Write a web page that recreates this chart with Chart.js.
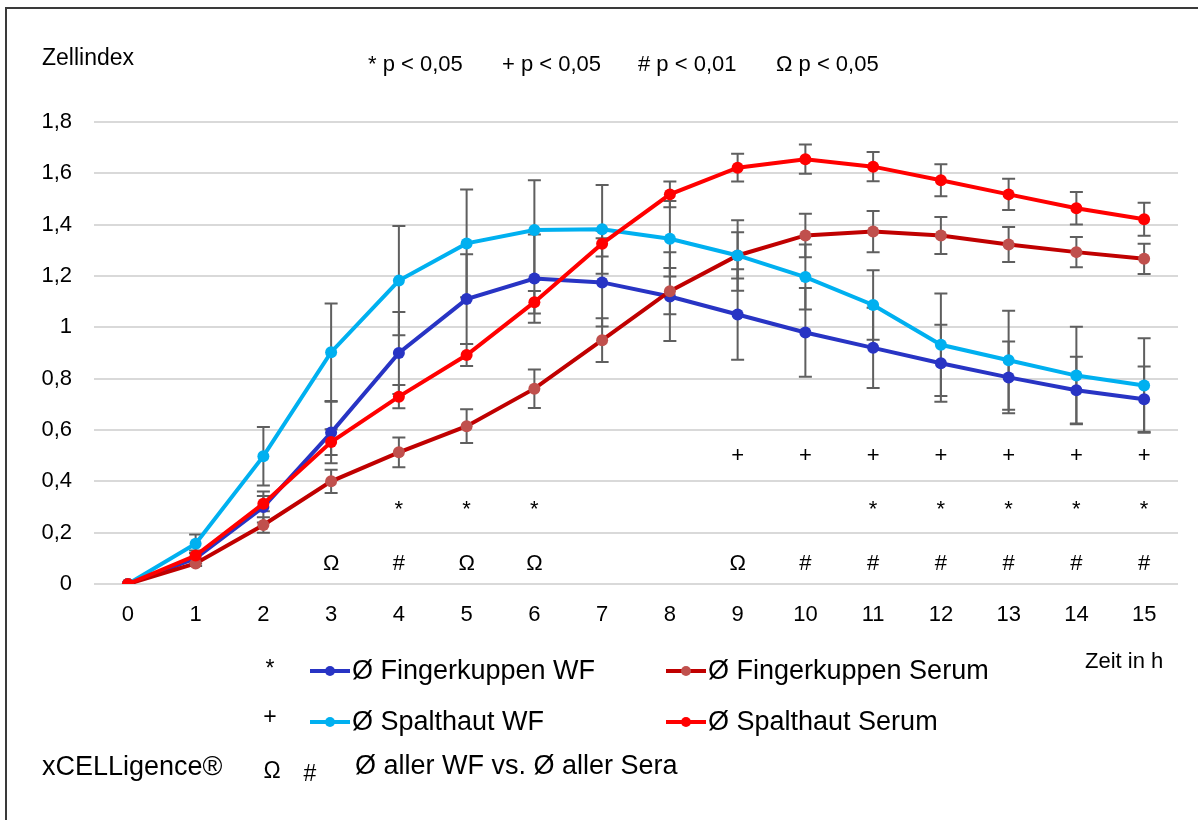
<!DOCTYPE html>
<html>
<head>
<meta charset="utf-8">
<script src="https://cdn.jsdelivr.net/npm/chart.js@4.4.1/dist/chart.umd.min.js"></script>
<style>
html,body{margin:0;padding:0;background:#ffffff;}
canvas{display:block;}
</style>
</head>
<body>
<canvas id="c" width="1198" height="820"></canvas>
<script>
// ---- data ----
const hours = ['0','1','2','3','4','5','6','7','8','9','10','11','12','13','14','15'];

const fingerWF      = [0, 0.10, 0.30, 0.59, 0.90, 1.11, 1.19, 1.175, 1.12, 1.05, 0.98, 0.92, 0.86, 0.805, 0.755, 0.72];
const fingerWFErr   = [0, 0.02, 0.06, 0.12, 0.16, 0.175, 0.172, 0.172, 0.173, 0.176, 0.173, 0.156, 0.15, 0.14, 0.13, 0.127];

const fingerSerum    = [0, 0.08, 0.23, 0.40, 0.513, 0.615, 0.761, 0.95, 1.141, 1.28, 1.358, 1.373, 1.358, 1.323, 1.293, 1.267];
const fingerSerumErr = [0, 0.01, 0.03, 0.045, 0.058, 0.066, 0.075, 0.085, 0.09, 0.09, 0.085, 0.08, 0.072, 0.068, 0.059, 0.059];

const spaltWF      = [0, 0.157, 0.498, 0.903, 1.182, 1.327, 1.379, 1.382, 1.345, 1.28, 1.196, 1.087, 0.932, 0.872, 0.812, 0.773];
const spaltWFErr   = [0, 0.036, 0.114, 0.19, 0.213, 0.21, 0.194, 0.173, 0.147, 0.137, 0.127, 0.135, 0.2, 0.193, 0.19, 0.184];

const spaltSerum    = [0, 0.111, 0.313, 0.553, 0.730, 0.892, 1.098, 1.326, 1.518, 1.622, 1.655, 1.626, 1.573, 1.518, 1.464, 1.421];
const spaltSerumErr = [0, 0.02, 0.03, 0.05, 0.045, 0.043, 0.044, 0.05, 0.05, 0.054, 0.057, 0.057, 0.062, 0.061, 0.063, 0.064];

const yTicks = [0, 0.2, 0.4, 0.6, 0.8, 1, 1.2, 1.4, 1.6, 1.8];

// significance marks (hour indices)
const starHours  = [4, 5, 6, 11, 12, 13, 14, 15];
const plusHours  = [9, 10, 11, 12, 13, 14, 15];
const omegaHours = [3, 5, 6, 9];
const hashHours  = [4, 10, 11, 12, 13, 14, 15];

const headerItems = ['* p < 0,05', '+ p < 0,05', '# p < 0,01', 'Ω p < 0,05'];
const yTitle = 'Zellindex';
const xTitle = 'Zeit in h';
const deviceLabel = 'xCELLigence®';
const compareLabel = 'Ø aller WF vs. Ø aller Sera';

const FONT = '"Liberation Sans", Arial, sans-serif';

const seriesLabels = ['Ø Fingerkuppen WF', 'Ø Fingerkuppen Serum', 'Ø Spalthaut WF', 'Ø Spalthaut Serum'];

// ---- plugins ----
const errorBarPlugin = {
  id: 'errorBars',
  beforeDatasetsDraw(chart) {
    const ctx = chart.ctx;
    const xs = chart.scales.x, ys = chart.scales.y;
    ctx.save();
    ctx.strokeStyle = '#5f5f5f';
    ctx.lineWidth = 2;
    chart.data.datasets.forEach(ds => {
      const err = ds.errors;
      if (!err) return;
      ds.data.forEach((v, j) => {
        const e = err[j];
        if (!e) return;
        const x = xs.getPixelForValue(j);
        const yHi = ys.getPixelForValue(v + e);
        const yLo = ys.getPixelForValue(v - e);
        ctx.beginPath();
        ctx.moveTo(x, yHi); ctx.lineTo(x, yLo);
        ctx.moveTo(x - 6.5, yHi); ctx.lineTo(x + 6.5, yHi);
        ctx.moveTo(x - 6.5, yLo); ctx.lineTo(x + 6.5, yLo);
        ctx.stroke();
      });
    });
    ctx.restore();
  }
};

const annotationPlugin = {
  id: 'annot',
  afterDatasetsDraw(chart) {
    const ctx = chart.ctx;
    const xs = chart.scales.x, ys = chart.scales.y;
    ctx.save();
    ctx.fillStyle = '#000';
    ctx.textAlign = 'center';
    ctx.textBaseline = 'middle';
    ctx.font = '22px ' + FONT;
    const put = (arr, txt, val) => arr.forEach(h => ctx.fillText(txt, xs.getPixelForValue(h), ys.getPixelForValue(val)));
    put(starHours, '*', 0.29);
    put(plusHours, '+', 0.50);
    put(omegaHours, 'Ω', 0.08);
    put(hashHours, '#', 0.08);
    ctx.restore();
  },
  afterDraw(chart) {
    const ctx = chart.ctx;
    ctx.save();
    // border
    ctx.strokeStyle = '#3a3a3a';
    ctx.lineWidth = 2;
    ctx.beginPath();
    ctx.moveTo(6, 1300); ctx.lineTo(6, 8); ctx.lineTo(1300, 8);
    ctx.stroke();

    ctx.fillStyle = '#000';
    ctx.textBaseline = 'middle';
    ctx.textAlign = 'left';
    ctx.font = '23px ' + FONT;
    ctx.fillText(yTitle, 42, 59);
    ctx.font = '22px ' + FONT;
    const hx = [368, 502, 638, 776];
    headerItems.forEach((t, i) => ctx.fillText(t, hx[i], 65));
    ctx.fillText(xTitle, 1085, 662);

    // legend symbols
    ctx.font = '23px ' + FONT;
    ctx.textAlign = 'center';
    ctx.fillText('*', 270, 670);
    ctx.fillText('+', 270, 718);
    ctx.fillText('Ω', 272, 772);
    ctx.fillText('#', 310, 775);
    ctx.textAlign = 'left';
    ctx.font = '27px ' + FONT;
    ctx.fillText(deviceLabel, 42, 768);
    ctx.fillText(compareLabel, 355, 767);

    const pos = [[310, 671], [666, 671], [310, 722], [666, 722]];
    chart.data.datasets.forEach((ds, i) => {
      const [lx, ly] = pos[i];
      ctx.strokeStyle = ds.borderColor;
      ctx.lineWidth = 4;
      ctx.beginPath(); ctx.moveTo(lx, ly); ctx.lineTo(lx + 40, ly); ctx.stroke();
      ctx.fillStyle = ds.pointBackgroundColor;
      ctx.beginPath(); ctx.arc(lx + 20, ly, 5, 0, Math.PI * 2); ctx.fill();
      ctx.fillStyle = '#000';
      ctx.fillText(ds.label, lx + 42, ly + 1);
    });
    ctx.restore();
  }
};

function mk(label, data, errors, line, point, order) {
  return {
    label, data, errors,
    borderColor: line, backgroundColor: point,
    pointBackgroundColor: point, pointBorderColor: point,
    pointBorderWidth: 0, pointRadius: 6, pointHoverRadius: 6,
    borderWidth: 4, tension: 0, fill: false, order
  };
}

new Chart(document.getElementById('c'), {
  type: 'line',
  data: {
    labels: hours,
    datasets: [
      mk(seriesLabels[0], fingerWF, fingerWFErr, '#2834C4', '#2834C4', 3),
      mk(seriesLabels[1], fingerSerum, fingerSerumErr, '#C00000', '#C0504D', 2),
      mk(seriesLabels[2], spaltWF, spaltWFErr, '#00B0F0', '#00B0F0', 1),
      mk(seriesLabels[3], spaltSerum, spaltSerumErr, '#FF0000', '#FF0000', 0)
    ]
  },
  options: {
    responsive: false,
    animation: false,
    events: [],
    layout: { padding: { top: 122, right: 20, left: 0, bottom: 0 } },
    plugins: { legend: { display: false }, tooltip: { enabled: false }, title: { display: false } },
    scales: {
      x: {
        type: 'category',
        offset: true,
        grid: { display: false },
        border: { display: false },
        ticks: { color: '#000', font: { family: FONT, size: 22 }, padding: 10, maxRotation: 0, autoSkip: false },
        afterFit(s) { s.height = 236; }
      },
      y: {
        min: 0, max: 1.8,
        afterBuildTicks(s) { s.ticks = yTicks.map(v => ({ value: v })); },
        grid: { color: '#d9d9d9', lineWidth: 2, drawTicks: false },
        border: { display: false },
        ticks: {
          color: '#000', font: { family: FONT, size: 22 }, padding: 22,
          callback: v => String(Number(v.toFixed(1))).replace('.', ',')
        },
        afterFit(s) { s.width = 94; }
      }
    }
  },
  plugins: [errorBarPlugin, annotationPlugin]
});
</script>
</body>
</html>
